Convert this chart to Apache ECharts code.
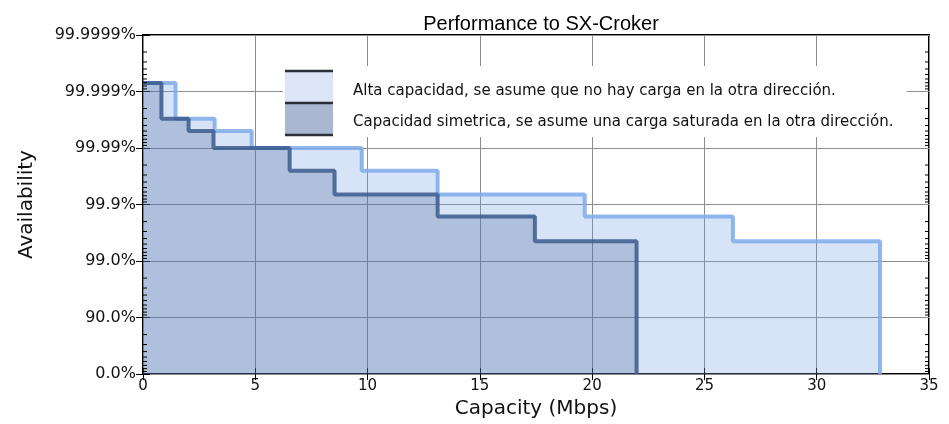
<!DOCTYPE html>
<html>
<head>
<meta charset="utf-8">
<script src="https://cdn.jsdelivr.net/npm/echarts@6/dist/echarts.min.js"></script>
<style>
html,body{margin:0;padding:0;background:#fff;}
#chart{width:949px;height:424px;}
</style>
</head>
<body>
<div id="chart"></div>
<script>
// Availability expressed as "number of nines": 0 -> 0.0%, 1 -> 90.0%, ... 6 -> 99.9999%
const yTickLabels = ['0.0%', '90.0%', '99.0%', '99.9%', '99.99%', '99.999%', '99.9999%'];
const xTicks = [0, 5, 10, 15, 20, 25, 30, 35];

const seriesNames = [
  'Alta capacidad, se asume que no hay carga en la otra dirección.',
  'Capacidad simetrica, se asume una carga saturada en la otra dirección.'
];

// Step curves: capacity (Mbps) where each level starts, and availability (nines)
const altaCapacity = [0, 1.45, 3.19, 4.84, 9.74, 13.12, 19.67, 26.27, 32.82];
const altaNines    = [5.15, 4.52, 4.30, 4.00, 3.60, 3.18, 2.79, 2.35, 0];

const simCapacity  = [0, 0.82, 2.03, 3.14, 6.53, 8.53, 13.12, 17.45, 21.98];
const simNines     = [5.15, 4.52, 4.30, 4.00, 3.60, 3.18, 2.79, 2.35, 0];

// log-spaced minor tick multipliers inside each decade (axis decoration)
const minorOffsets = [2, 3, 4, 5, 6, 7, 8, 9];

const zip = (a, b) => a.map((v, i) => [v, b[i]]);

const minorTicks = [];
for (let n = 0; n < 6; n++) {
  minorOffsets.forEach(k => minorTicks.push([0, n + 1 - Math.log10(k)]));
}

const chart = echarts.init(document.getElementById('chart'), null, {renderer: 'canvas'});

const GL = 143, GR = 20, GT = 35, GB = 48;

const option = {
  backgroundColor: '#ffffff',
  animation: false,
  title: {
    text: 'Performance to SX-Croker',
    left: 536, top: 9, textAlign: 'center',
    textStyle: {fontFamily: 'Liberation Sans', fontSize: 20, fontWeight: 'normal', color: '#000'}
  },
  grid: {
    left: GL, right: GR, top: GT, bottom: GB,
    show: true, borderColor: '#000', borderWidth: 2, backgroundColor: 'transparent'
  },
  xAxis: [{
    type: 'value', min: 0, max: 35, interval: 5,
    name: 'Capacity (Mbps)', nameLocation: 'middle', nameGap: 23,
    nameTextStyle: {fontFamily: 'DejaVu Sans', fontSize: 20, color: '#111'},
    axisLine: {show: false},
    axisTick: {show: true, inside: true, length: 6, lineStyle: {color: '#000', width: 1}},
    axisLabel: {fontFamily: 'DejaVu Sans', fontSize: 15, color: '#111', margin: 5},
    splitLine: {show: true, lineStyle: {color: '#8c8c8c', width: 1}}
  }, {
    type: 'value', min: 0, max: 35, interval: 5, position: 'top',
    axisLine: {show: false},
    axisTick: {show: true, inside: true, length: 6, lineStyle: {color: '#000', width: 1}},
    axisLabel: {show: false},
    splitLine: {show: false}
  }],
  yAxis: [{
    type: 'value', min: 0, max: 6, interval: 1,
    name: 'Availability', nameLocation: 'middle', nameGap: 106, nameRotate: 90,
    nameTextStyle: {fontFamily: 'DejaVu Sans', fontSize: 20, color: '#111'},
    axisLine: {show: false},
    axisTick: {show: true, inside: true, length: 7, lineStyle: {color: '#000', width: 1}},
    axisLabel: {
      fontFamily: 'DejaVu Sans', fontSize: 16, color: '#111', margin: 7,
      formatter: v => yTickLabels[Math.round(v)]
    },
    splitLine: {show: true, lineStyle: {color: '#8c8c8c', width: 1}}
  }, {
    type: 'value', min: 0, max: 6, interval: 1, position: 'right',
    axisLine: {show: false},
    axisTick: {show: true, inside: true, length: 7, lineStyle: {color: '#000', width: 1}},
    axisLabel: {show: false},
    splitLine: {show: false}
  }],
  series: [{
    name: seriesNames[0],
    type: 'line', step: 'end', showSymbol: false, symbol: 'none',
    data: zip(altaCapacity, altaNines),
    lineStyle: {color: '#7eaaea', width: 4, opacity: 0.85},
    areaStyle: {color: 'rgba(110,155,225,0.28)', opacity: 1},
    z: 2
  }, {
    name: seriesNames[1],
    type: 'line', step: 'end', showSymbol: false, symbol: 'none',
    data: zip(simCapacity, simNines),
    lineStyle: {color: '#3b5b8c', width: 4, opacity: 0.85},
    areaStyle: {color: 'rgba(45,85,135,0.24)', opacity: 1},
    z: 3
  }, {
    type: 'custom', silent: true, z: 10,
    data: minorTicks,
    renderItem: (params, api) => {
      const pl = api.coord([0, api.value(1)]);
      const pr = api.coord([35, api.value(1)]);
      return {
        type: 'group',
        children: [
          {type: 'line', shape: {x1: pl[0], y1: pl[1], x2: pl[0] + 4, y2: pl[1]}, style: {stroke: '#000', lineWidth: 1}},
          {type: 'line', shape: {x1: pr[0], y1: pr[1], x2: pr[0] - 4, y2: pr[1]}, style: {stroke: '#000', lineWidth: 1}}
        ]
      };
    }
  }],
  graphic: [
    {type: 'rect', left: 283, top: 66, z: 20, shape: {width: 624, height: 71}, style: {fill: '#ffffff'}},
    {type: 'rect', left: 285, top: 71, z: 21, shape: {width: 48, height: 32}, style: {fill: '#dbe5f5'}},
    {type: 'rect', left: 285, top: 103, z: 21, shape: {width: 48, height: 32}, style: {fill: '#a9b7d1'}},
    {type: 'line', z: 22, shape: {x1: 285, y1: 71, x2: 333, y2: 71}, style: {stroke: '#2a2f38', lineWidth: 2.5}},
    {type: 'line', z: 22, shape: {x1: 285, y1: 103, x2: 333, y2: 103}, style: {stroke: '#2a2f38', lineWidth: 2.5}},
    {type: 'line', z: 22, shape: {x1: 285, y1: 135, x2: 333, y2: 135}, style: {stroke: '#2a2f38', lineWidth: 2.5}},
    {type: 'text', left: 353, top: 84, z: 22,
      style: {text: seriesNames[0], fontFamily: 'DejaVu Sans', fontSize: 15, fill: '#111'}},
    {type: 'text', left: 353, top: 115, z: 22,
      style: {text: seriesNames[1], fontFamily: 'DejaVu Sans', fontSize: 15, fill: '#111'}}
  ]
};

chart.setOption(option);
</script>
</body>
</html>
